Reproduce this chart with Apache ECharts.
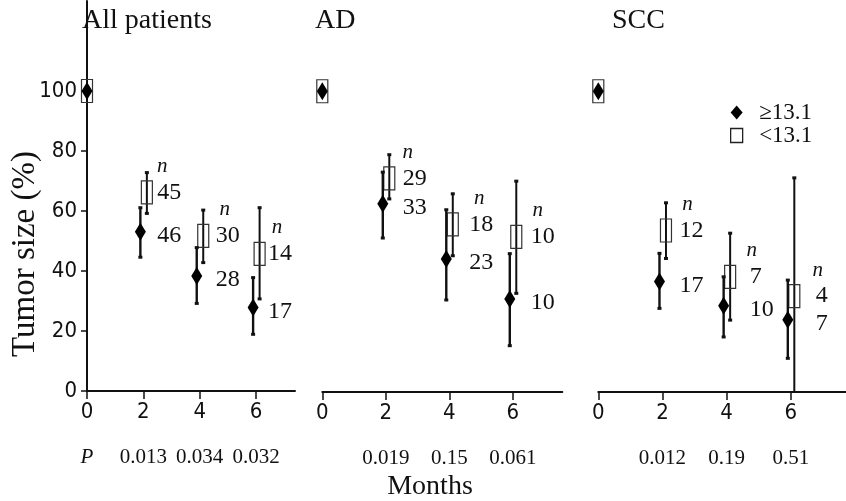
<!DOCTYPE html>
<html><head><meta charset="utf-8">
<script src="https://cdn.jsdelivr.net/npm/echarts@6/dist/echarts.min.js"></script>
<style>html,body{margin:0;padding:0;background:#fff}#c{width:846px;height:501px}</style>
</head><body><div id="c"></div>
<script>
// ---------- data ----------
const months = [0, 2, 4, 6];
const xTicks = [0, 2, 4, 6];
const yTicks = [0, 20, 40, 60, 80, 100];
const panelTitles = ['All patients', 'AD', 'SCC'];
const seriesNames = ['≥13.1', '<13.1'];
const pHeader = ['P', '', ''];

// All patients
const allHiMean = [100, 53.1, 38.3, 27.8];
const allHiLow  = [null, 44.6, 29.2, 18.9];
const allHiHigh = [null, 61.1, 47.8, 37.8];
const allLoMean = [100, 66.2, 51.7, 45.7];
const allLoLow  = [null, 59.2, 42.8, 30.7];
const allLoHigh = [null, 72.8, 60.3, 61.1];
const allHiN = [null, 46, 28, 17];
const allLoN = [null, 45, 30, 14];
const allP = ['0.013', '0.034', '0.032'];

// AD
const adHiMean = [100, 62.6, 44.2, 30.9];
const adHiLow  = [null, 51.2, 30.6, 15.4];
const adHiHigh = [null, 73.1, 60.6, 46.0];
const adLoMean = [100, 71.0, 55.7, 51.6];
const adLoLow  = [null, 64.2, 45.3, 32.8];
const adLoHigh = [null, 78.9, 65.9, 70.1];
const adHiN = [null, 33, 23, 10];
const adLoN = [null, 29, 18, 10];
const adP = ['0.019', '0.15', '0.061'];

// SCC
const sccHiMean = [100, 36.7, 28.7, 24.0];
const sccHiLow  = [null, 27.8, 18.3, 11.2];
const sccHiHigh = [null, 46.1, 38.3, 37.2];
const sccLoMean = [100, 53.7, 38.3, 31.9];
const sccLoLow  = [null, 44.4, 23.9, -5];
const sccLoHigh = [null, 62.9, 52.8, 71.2];
const sccHiN = [null, 17, 10, 7];
const sccLoN = [null, 12, 7, 4];
const sccP = ['0.012', '0.19', '0.51'];

// ---------- layout (styles only) ----------
const gridBoxes = [
  {left: 87, top: 1, width: 208, height: 390},
  {left: 322.3, top: 1, width: 240, height: 391},
  {left: 598.3, top: 1, width: 248, height: 391}
];
const xMaxes = [7.38, 7.56, 7.72];
const labelDx = [[0, 14, 16, 12], [0, 17, 20, 18], [0, 17, 23, 25]];
const nDx = [[0, 5, 9, 9], [0, 5, 10, 7], [0, 8, 2, 2]];
const titleLeft = [82, 315, 612];
const tickFont = {fontFamily: '"DejaVu Sans Condensed", "DejaVu Sans"', fontWeight: 'condensed', fontSize: 22, color: '#111'};

const panels = [
  {hi: [allHiMean, allHiLow, allHiHigh, allHiN], lo: [allLoMean, allLoLow, allLoHigh, allLoN], p: allP},
  {hi: [adHiMean, adHiLow, adHiHigh, adHiN], lo: [adLoMean, adLoLow, adLoHigh, adLoN], p: adP},
  {hi: [sccHiMean, sccHiLow, sccHiHigh, sccHiN], lo: [sccLoMean, sccLoLow, sccLoHigh, sccLoN], p: sccP}
];

function rows(arrs) {
  return months.map((m, i) => [m, arrs[0][i],
    arrs[1][i] == null ? '-' : arrs[1][i],
    arrs[2][i] == null ? '-' : arrs[2][i],
    arrs[3][i] == null ? '-' : arrs[3][i], i]);
}

function makeRender(kind, dx, pi) {
  return function (params, api) {
    const m = api.value(0), mean = api.value(1), lo = api.value(2), hi = api.value(3), n = api.value(4), idx = api.value(5);
    const base = api.coord([m, mean]);
    const cx = base[0] + (m === 0 ? 0 : dx);
    const cy = base[1];
    const cs = params.coordSys;
    const bottom = cs.y + cs.height;
    const col = '#111';
    const ch = [];
    if (!isNaN(lo) && !isNaN(hi)) {
      const yl = api.coord([m, lo])[1], yh = api.coord([m, hi])[1];
      ch.push({type: 'line', shape: {x1: cx, y1: yh, x2: cx, y2: Math.min(yl, bottom)},
        style: {stroke: col, lineWidth: kind === 'hi' ? 2.4 : 2}});
      ch.push({type: 'rect', shape: {x: cx - 2, y: yh - 1.5, width: 4, height: 3}, style: {fill: col}});
      if (yl <= bottom) ch.push({type: 'rect', shape: {x: cx - 2, y: yl - 1.5, width: 4, height: 3}, style: {fill: col}});
    }
    if (kind === 'lo') {
      ch.push({type: 'rect', shape: {x: cx - 5.5, y: cy - 11.5, width: 11, height: 23},
        style: {fill: 'none', stroke: '#333', lineWidth: 1.2}});
    } else {
      ch.push({type: 'polygon', shape: {points: [[cx, cy - 9], [cx + 5.5, cy], [cx, cy + 9], [cx - 5.5, cy]]},
        style: {fill: '#000'}});
    }
    if (!isNaN(n)) {
      const tx = base[0] + labelDx[pi][idx];
      ch.push({type: 'text', x: tx, y: cy + (kind === 'hi' ? 4 : 0),
        style: {text: String(n), font: '24px "Liberation Serif"', fill: '#111', align: 'left', verticalAlign: 'middle'}});
      if (kind === 'lo') {
        ch.push({type: 'text', x: tx + nDx[pi][idx], y: cy - 26,
          style: {text: 'n', font: 'italic 21px "Liberation Serif"', fill: '#111', align: 'center', verticalAlign: 'middle'}});
      }
    }
    return {type: 'group', children: ch};
  };
}

const grids = gridBoxes.map(g => Object.assign({containLabel: false}, g));
const xAxes = panels.map((p, i) => ({
  gridIndex: i, type: 'value', min: 0, max: xMaxes[i],
  axisLine: {show: true, onZero: false, lineStyle: {color: '#111', width: 2}},
  axisTick: {show: true, length: 8, customValues: xTicks, lineStyle: {color: '#111', width: 1.5}},
  splitLine: {show: false},
  axisLabel: {
    customValues: xTicks, margin: 10,
    formatter: function (v) {
      const k = xTicks.indexOf(v);
      if (k === 0) return '{t|' + v + '}\n' + (pHeader[i] ? '{pi|' + pHeader[i] + '}' : '{p| }');
      return '{t|' + v + '}\n{p|' + p.p[k - 1] + '}';
    },
    rich: {
      t: Object.assign({lineHeight: 22}, tickFont),
      p: {fontFamily: 'Liberation Serif', fontSize: 21, lineHeight: 68, color: '#111'},
      pi: {fontFamily: 'Liberation Serif', fontStyle: 'italic', fontSize: 21, lineHeight: 68, color: '#111'}
    }
  }
}));
const yAxes = panels.map((p, i) => ({
  gridIndex: i, type: 'value', min: 0, max: 130, show: i === 0,
  axisLine: {show: true, lineStyle: {color: '#111', width: 2}},
  axisTick: {show: true, length: 6, customValues: yTicks, lineStyle: {color: '#111', width: 1.5}},
  axisLabel: Object.assign({customValues: yTicks, margin: 10}, tickFont),
  splitLine: {show: false}
}));

const series = [];
panels.forEach((p, i) => {
  series.push({type: 'custom', name: seriesNames[1], xAxisIndex: i, yAxisIndex: i,
    renderItem: makeRender('lo', 3.5, i), data: rows(p.lo), encode: {x: 0, y: 1},
    itemStyle: {color: '#fff', borderColor: '#222'}, clip: false, z: 3, silent: true});
  series.push({type: 'custom', name: seriesNames[0], xAxisIndex: i, yAxisIndex: i,
    renderItem: makeRender('hi', -3, i), data: rows(p.hi), encode: {x: 0, y: 1},
    itemStyle: {color: '#000'}, clip: false, z: 4, silent: true});
});

const chart = echarts.init(document.getElementById('c'), null, {renderer: 'canvas'});
chart.setOption({
  animation: false,
  backgroundColor: '#fff',
  title: panelTitles.map((t, i) => ({text: t, left: titleLeft[i], top: 7, padding: 0,
    textStyle: {fontFamily: 'Liberation Serif', fontSize: 28, fontWeight: 'normal', color: '#111'}})),
  legend: {
    orient: 'vertical', left: 725, top: 96, itemWidth: 12, itemHeight: 14, itemGap: 0,
    selectedMode: false,
    formatter: name => '  ' + name,
    textStyle: {fontFamily: 'Liberation Serif', fontSize: 23, lineHeight: 21, color: '#111'},
    data: [
      {name: seriesNames[0], icon: 'diamond', itemStyle: {color: '#000'}},
      {name: seriesNames[1], icon: 'rect', itemStyle: {color: '#fff', borderColor: '#222', borderWidth: 1.3}}
    ]
  },
  grid: grids,
  xAxis: xAxes,
  yAxis: yAxes,
  series: series,
  graphic: [
    {type: 'text', x: 25, y: 254, rotation: Math.PI / 2,
      style: {text: 'Tumor size (%)', font: '33px "Liberation Serif"', fill: '#111', align: 'center', verticalAlign: 'middle'}},
    {type: 'text', x: 430, y: 487,
      style: {text: 'Months', font: '28px "Liberation Serif"', fill: '#111', align: 'center', verticalAlign: 'middle'}}
  ]
});
</script></body></html>
